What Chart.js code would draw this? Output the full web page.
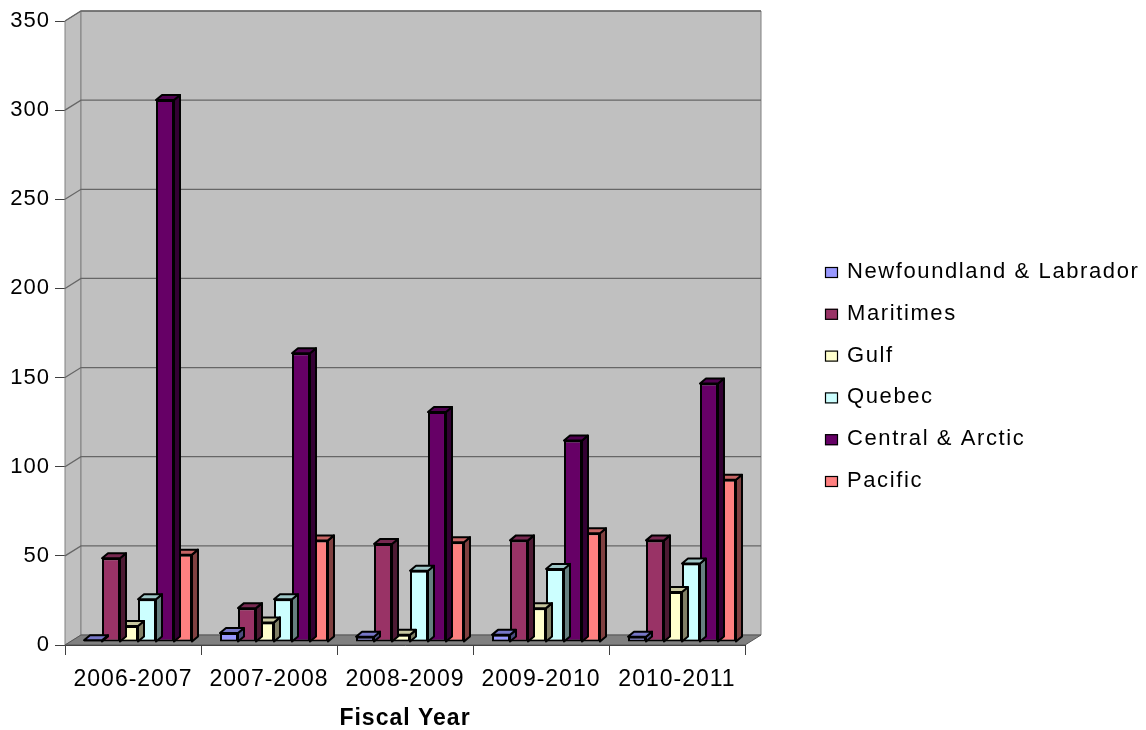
<!DOCTYPE html>
<html>
<head>
<meta charset="utf-8">
<script src="https://cdn.jsdelivr.net/npm/chart.js@4/dist/chart.umd.min.js"></script>
<style>
  html, body { margin: 0; padding: 0; background: #ffffff; }
  #wrap { position: relative; width: 1146px; height: 730px; }
</style>
</head>
<body>
<div id="wrap"><canvas id="chart"></canvas></div>
<script>
// Fiscal years shown along the category axis
const fiscalYears = ['2006-2007', '2007-2008', '2008-2009', '2009-2010', '2010-2011'];

// Counts per region, one value per fiscal year
const newfoundlandLabrador = [1, 5, 3, 4, 3];
const maritimes            = [47, 19, 55, 57, 57];
const gulf                 = [9, 11, 4, 19, 28];
const quebec               = [24, 24, 40, 41, 44];
const centralArctic        = [304, 162, 129, 113, 145];
const pacific              = [49, 57, 56, 61, 91];

const regionNames = ['Newfoundland & Labrador', 'Maritimes', 'Gulf', 'Quebec', 'Central & Arctic', 'Pacific'];
const regionColors = ['#9999FF', '#993366', '#FFFFCC', '#CCFFFF', '#660066', '#FF8080'];

// Value axis ticks
const yMin = 0, yMax = 350, yStep = 50;

const FONT = "'Liberation Sans', Arial, sans-serif";

// Depth of the chart box (walls / floor) and of each column
const BOX = { dx: 16, dy: 10 };
const COL = { dx: 6, dy: 5 };
// Columns sit slightly behind the front plane of the floor
const COL_SHIFT = { dx: 5, dy: -3 };

function shade(hex, f) {
  const n = parseInt(hex.slice(1), 16);
  const r = Math.round(((n >> 16) & 255) * f);
  const g = Math.round(((n >> 8) & 255) * f);
  const b = Math.round((n & 255) * f);
  return `rgb(${r},${g},${b})`;
}

// Slightly wider text spacing for all canvas text
const textSpacing = {
  id: 'textSpacing',
  beforeLayout(chart) { chart.ctx.letterSpacing = '1px'; },
  beforeDraw(chart) { chart.ctx.letterSpacing = '1px'; }
};

// Back wall, side wall, floor and wall gridlines
const chartBox = {
  id: 'chartBox',
  beforeDatasetsDraw(chart) {
    const { ctx, chartArea: a, scales: { y } } = chart;
    ctx.save();
    // side wall
    ctx.fillStyle = '#C0C0C0';
    ctx.strokeStyle = '#808080';
    ctx.lineWidth = 1;
    ctx.beginPath();
    ctx.moveTo(a.left, a.top);
    ctx.lineTo(a.left + BOX.dx, a.top - BOX.dy);
    ctx.lineTo(a.left + BOX.dx, a.bottom - BOX.dy);
    ctx.lineTo(a.left, a.bottom);
    ctx.closePath();
    ctx.fill();
    ctx.stroke();
    // back wall
    ctx.beginPath();
    ctx.rect(a.left + BOX.dx, a.top - BOX.dy, a.right - a.left, a.bottom - a.top);
    ctx.fill();
    ctx.stroke();
    // gridlines across side wall and back wall
    ctx.strokeStyle = '#666666';
    ctx.lineWidth = 1.3;
    for (let v = yMin + yStep; v <= yMax; v += yStep) {
      const yf = y.getPixelForValue(v);
      ctx.beginPath();
      ctx.moveTo(a.left, yf);
      ctx.lineTo(a.left + BOX.dx, yf - BOX.dy);
      ctx.lineTo(a.right + BOX.dx, yf - BOX.dy);
      ctx.stroke();
    }
    // floor
    ctx.fillStyle = '#808080';
    ctx.strokeStyle = '#555555';
    ctx.lineWidth = 1;
    ctx.beginPath();
    ctx.moveTo(a.left, a.bottom);
    ctx.lineTo(a.right, a.bottom);
    ctx.lineTo(a.right + BOX.dx, a.bottom - BOX.dy);
    ctx.lineTo(a.left + BOX.dx, a.bottom - BOX.dy);
    ctx.closePath();
    ctx.fill();
    ctx.stroke();
    ctx.restore();

    // columns are drawn set back into the box
    ctx.save();
    ctx.translate(COL_SHIFT.dx, COL_SHIFT.dy);
  },
  afterDatasetDraw(chart, args) {
    const { ctx } = chart;
    const meta = args.meta;
    const color = chart.data.datasets[args.index].backgroundColor;
    ctx.save();
    ctx.strokeStyle = '#000000';
    ctx.lineWidth = 2;
    ctx.lineJoin = 'round';
    meta.data.forEach((bar) => {
      const p = bar.getProps(['x', 'y', 'base', 'width'], true);
      const l = p.x - p.width / 2, r = p.x + p.width / 2;
      const top = Math.min(p.y, p.base), base = Math.max(p.y, p.base);
      // right side face
      ctx.fillStyle = shade(color, 0.5);
      ctx.beginPath();
      ctx.moveTo(r, top);
      ctx.lineTo(r + COL.dx, top - COL.dy);
      ctx.lineTo(r + COL.dx, base - COL.dy);
      ctx.lineTo(r, base);
      ctx.closePath();
      ctx.fill();
      ctx.stroke();
      // top face
      ctx.fillStyle = shade(color, 0.78);
      ctx.beginPath();
      ctx.moveTo(l, top);
      ctx.lineTo(r, top);
      ctx.lineTo(r + COL.dx, top - COL.dy);
      ctx.lineTo(l + COL.dx, top - COL.dy);
      ctx.closePath();
      ctx.fill();
      ctx.stroke();
    });
    ctx.restore();
  },
  afterDatasetsDraw(chart) {
    chart.ctx.restore();
  }
};

// Legend to the right of the plot
const sideLegend = {
  id: 'sideLegend',
  afterDraw(chart) {
    const { ctx } = chart;
    const x0 = 825, base0 = 278, step = 41.8, sw = 13, sh = 11;
    ctx.save();
    ctx.font = `22px ${FONT}`;
    ctx.letterSpacing = '1.6px';
    ctx.textBaseline = 'alphabetic';
    ctx.textAlign = 'left';
    chart.data.datasets.forEach((ds, i) => {
      const yb = base0 + i * step;
      ctx.fillStyle = ds.backgroundColor;
      ctx.fillRect(x0, yb - sh, sw, sh);
      ctx.strokeStyle = '#000000';
      ctx.lineWidth = 1.2;
      ctx.strokeRect(x0 + 0.5, yb - sh + 0.5, sw - 1, sh - 1);
      ctx.fillStyle = '#000000';
      ctx.fillText(ds.label, x0 + 22, yb);
    });
    ctx.restore();
  }
};

const seriesValues = [newfoundlandLabrador, maritimes, gulf, quebec, centralArctic, pacific];

new Chart(document.getElementById('chart'), {
  type: 'bar',
  data: {
    labels: fiscalYears,
    datasets: seriesValues.map((vals, i) => ({
      label: regionNames[i],
      data: vals,
      backgroundColor: regionColors[i],
      borderColor: '#000000',
      borderWidth: 2,
      borderSkipped: false,
      categoryPercentage: 0.794,
      barPercentage: 1.0,
      clip: false
    }))
  },
  options: {
    responsive: true,
    maintainAspectRatio: false,
    animation: false,
    events: [],
    layout: { padding: { left: 0, right: 401, top: 21, bottom: 0 } },
    plugins: {
      legend: { display: false },
      tooltip: { enabled: false }
    },
    scales: {
      x: {
        offset: true,
        grid: { offset: true, drawOnChartArea: false, drawTicks: true, tickLength: 10, color: '#404040', lineWidth: 1 },
        border: { display: true, color: '#303030', width: 1 },
        ticks: { color: '#000000', font: { family: FONT, size: 23 }, padding: 11, maxRotation: 0, autoSkip: false },
        title: {
          display: true, text: 'Fiscal Year', color: '#000000',
          font: { family: FONT, size: 23, weight: 'bold', lineHeight: 1 },
          padding: { top: 0, bottom: 0 }
        },
        afterFit(scale) { scale.height = 85; }
      },
      y: {
        min: yMin, max: yMax,
        grid: { drawOnChartArea: false, drawTicks: true, tickLength: 10, color: '#404040', lineWidth: 1 },
        border: { display: true, color: '#404040', width: 1 },
        ticks: { stepSize: yStep, color: '#000000', font: { family: FONT, size: 22 }, padding: 5 },
        afterFit(scale) { scale.width = 65; }
      }
    }
  },
  plugins: [textSpacing, chartBox, sideLegend]
});
</script>
</body>
</html>
